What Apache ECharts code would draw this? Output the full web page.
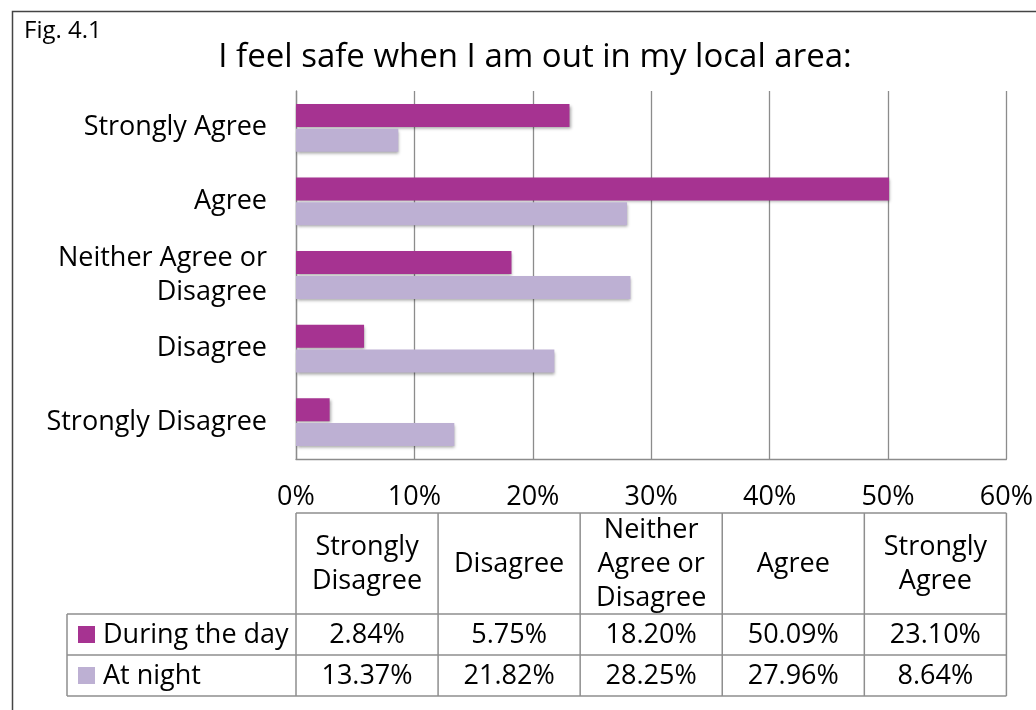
<!DOCTYPE html>
<html><head><meta charset="utf-8">
<script src="https://cdn.jsdelivr.net/npm/echarts@6/dist/echarts.min.js"></script>
<style>html,body{margin:0;padding:0;background:#fff}#c{width:1036px;height:710px}</style>
</head><body><div id="c"></div>
<script>
const categories = ['Strongly Disagree','Disagree','Neither Agree or Disagree','Agree','Strongly Agree'];
const axisLabels = ['Strongly Disagree','Disagree','Neither Agree or\nDisagree','Agree','Strongly Agree'];
const tableHeaders = ['Strongly\nDisagree','Disagree','Neither\nAgree or\nDisagree','Agree','Strongly\nAgree'];
const seriesNames = ['During the day','At night'];
const dayValues = [2.84, 5.75, 18.20, 50.09, 23.10];
const nightValues = [13.37, 21.82, 28.25, 27.96, 8.64];
const dayLabels = ['2.84%','5.75%','18.20%','50.09%','23.10%'];
const nightLabels = ['13.37%','21.82%','28.25%','27.96%','8.64%'];
const xMin = 0, xMax = 60, xStep = 10;

const FONT = '"Open Sans"';
const FS = 27;
const DAY = '#a63391';
const NIGHT = '#bdb0d3';
const GRID = '#8c8c8c';

const chart = echarts.init(document.getElementById('c'), null, {renderer:'canvas'});
const labelMap = {};
categories.forEach((c,i)=>labelMap[c]=axisLabels[i]);

chart.setOption({
  backgroundColor:'#fff',
  animation:false,
  textStyle:{fontFamily:FONT},
  grid:{left:296, right:28, top:91, bottom:251, containLabel:false},
  xAxis:{
    type:'value', min:xMin, max:xMax, interval:xStep,
    axisLine:{show:true, lineStyle:{color:GRID, width:1.3}},
    axisTick:{show:false},
    axisLabel:{formatter:v=>v+'%', color:'#000', fontSize:FS, fontFamily:FONT, margin:25},
    splitLine:{show:true, lineStyle:{color:GRID, width:1.3}}
  },
  yAxis:{
    type:'category', data:categories,
    axisLine:{show:true, onZero:false, lineStyle:{color:GRID, width:1.3}},
    axisTick:{show:false},
    axisLabel:{formatter:v=>labelMap[v], color:'#000', fontSize:FS, fontFamily:FONT, margin:29, lineHeight:34, align:'right'}
  },
  series:[
    {name:seriesNames[0], type:'bar', data:dayValues, barWidth:23, barGap:'8%',
     itemStyle:{color:DAY, shadowColor:'rgba(0,0,0,0.35)', shadowBlur:3, shadowOffsetX:1, shadowOffsetY:2}},
    {name:seriesNames[1], type:'bar', data:nightValues, barWidth:23, barGap:'8%',
     itemStyle:{color:NIGHT, shadowColor:'rgba(0,0,0,0.35)', shadowBlur:3, shadowOffsetX:1, shadowOffsetY:2}}
  ]
});

const nCol = categories.length;
const colEdges = [];
for (let i=0;i<=nCol;i++) colEdges.push(chart.convertToPixel({xAxisIndex:0}, xMin + (xMax-xMin)*i/nCol));
const tTop = 513, hBot = 614, r1Bot = 655, r2Bot = 696, legLeft = 67;
const LINE = {stroke:'#8e8e8e', lineWidth:1.5};
const g = [];
g.push({type:'rect', shape:{x:12.5,y:11.5,width:1040,height:720}, style:{fill:null, stroke:'#444', lineWidth:1.5}, z:1});
g.push({type:'text', left:24, top:19, style:{text:'Fig. 4.1', font:'24px '+FONT, fill:'#000'}});
g.push({type:'text', x:535, y:58, style:{text:'I feel safe when I am out in my local area:', font:'33px '+FONT, fill:'#000', textAlign:'center', textVerticalAlign:'middle'}});
g.push({type:'line', shape:{x1:colEdges[0],y1:tTop,x2:colEdges[nCol],y2:tTop}, style:LINE});
[hBot, r1Bot, r2Bot].forEach(y=>g.push({type:'line', shape:{x1:legLeft,y1:y,x2:colEdges[nCol],y2:y}, style:LINE}));
colEdges.forEach(x=>g.push({type:'line', shape:{x1:x,y1:tTop,x2:x,y2:r2Bot}, style:LINE}));
g.push({type:'line', shape:{x1:legLeft,y1:hBot,x2:legLeft,y2:r2Bot}, style:LINE});
for (let i=0;i<nCol;i++){
  const cx = (colEdges[i]+colEdges[i+1])/2;
  g.push({type:'text', x:cx, y:(tTop+hBot)/2+1, style:{text:tableHeaders[i], font:FS+'px '+FONT, lineHeight:34, fill:'#000', textAlign:'center', textVerticalAlign:'middle'}});
  g.push({type:'text', x:cx, y:(hBot+r1Bot)/2+1, style:{text:dayLabels[i], font:FS+'px '+FONT, fill:'#000', textAlign:'center', textVerticalAlign:'middle'}});
  g.push({type:'text', x:cx, y:(r1Bot+r2Bot)/2+1, style:{text:nightLabels[i], font:FS+'px '+FONT, fill:'#000', textAlign:'center', textVerticalAlign:'middle'}});
}
[[DAY,hBot,r1Bot],[NIGHT,r1Bot,r2Bot]].forEach((k,i)=>{
  const cy=(k[1]+k[2])/2;
  g.push({type:'rect', shape:{x:78,y:cy-8.5,width:17,height:17}, style:{fill:k[0]}});
  g.push({type:'text', x:103, y:cy+1, style:{text:seriesNames[i], font:FS+'px '+FONT, fill:'#000', textAlign:'left', textVerticalAlign:'middle'}});
});
chart.setOption({graphic:{elements:g}});
</script></body></html>
